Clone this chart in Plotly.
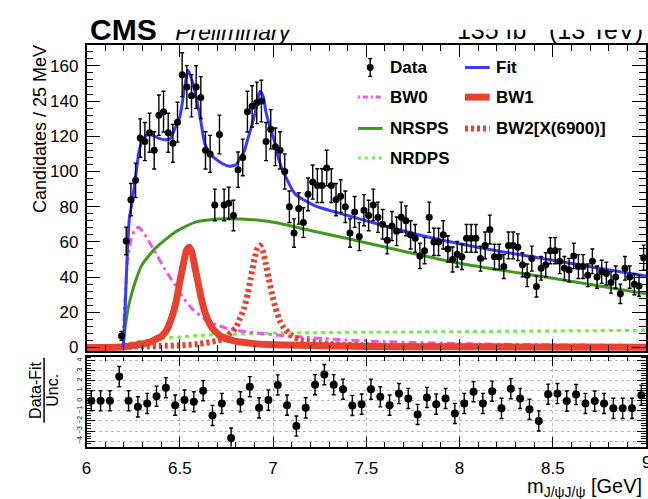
import numpy as np
import plotly.graph_objects as go

# ---- data: di-J/psi invariant mass, 25 MeV bins ----
bin_lo = 6.175
bin_w = 0.025
counts = [6.6, 60.5, 84, 95, 119, 117, 122, 112, 132, 134,
          122, 116, 128, 155, 148, 143, 148, 142, 112, 110,
          81, 121, 81, 82, 75, 101, 108, 134, 137, 139,
          140, 117, 124, 114, 112, 100, 80, 65, 79, 71,
          87, 94, 92, 92, 102, 92, 84, 86, 80, 65,
          77, 63, 78, 75, 81, 74, 70, 61, 69, 66,
          74, 72, 64, 62, 52, 55, 74, 60, 60, 64,
          56, 50, 53, 51.5, 62, 62, 62, 50.5, 58, 67,
          51.5, 51.5, 46, 58, 58, 57, 47, 41, 50.5, 34.6,
          45, 47, 55, 55, 49, 45, 44, 52, 46, 46,
          41, 49, 40, 43, 42, 37, 40, 30.5, 45, 40,
          36, 35, 51]
mass = [bin_lo + bin_w * (i + 0.5) for i in range(len(counts))]
errors = [np.sqrt(c) for c in counts]

# ---- pulls, 50 MeV bins ----
pull_lo = 6.0
pull_w = 0.05
pulls = [0, 0, 0, 2.4, 0, -0.6, -0.26, 0.46, 1.3, -0.43,
         0.07, -0.1, 1.0, -1.45, -0.26, -3.7, -0.1, 1.4, -0.7, 0.07,
         1.57, -0.43, -2.5, -0.7, 1.6, 2.6, 1.6, 1.15, -0.46, -0.33,
         1.15, 0.4, -0.43, 0.72, 0.23, -1.35, 0.33, -0.33, 0.23, -1.25,
         -0.26, 0.9, -0.26, 0.95, -0.75, 1.2, 0.23, -0.85, -2.0, 0.66,
         0.72, -0.03, 0.62, -0.26, -0.03, -0.26, -0.75, -0.75, -0.75, 0.56]
pull_mass = [pull_lo + pull_w * (i + 0.5) for i in range(len(pulls))]
pull_err = [1.0] * len(pulls)

# ---- fit model components ----
fit_m = [6.194, 6.199, 6.217, 6.229, 6.243, 6.261, 6.279, 6.296, 6.323, 6.35,
         6.385, 6.42, 6.447, 6.474, 6.5, 6.523, 6.544, 6.566, 6.588, 6.612,
         6.633, 6.659, 6.686, 6.73, 6.766, 6.801, 6.819, 6.845, 6.863, 6.889,
         6.907, 6.93, 6.948, 6.96, 6.983, 7.005, 7.031, 7.058, 7.12, 7.226,
         7.4, 7.6, 7.8, 8.0, 8.25, 8.5, 8.75, 9.0]
fit_v = [0, 3.8, 50.5, 73, 82, 95.5, 110, 117, 120.7, 120.7,
         119, 118, 118.5, 124.5, 131, 146, 157.6, 151.6, 142, 129,
         116, 110.4, 107.6, 104.4, 103, 103.9, 106.7, 111.4, 118, 127.3,
         134.8, 145.6, 142.3, 134.8, 125.4, 118, 106.7, 99.2, 87, 80.5,
         75, 69, 63.5, 59, 54, 49.6, 45, 40.6]

bw0_m = [6.194, 6.2, 6.21, 6.22, 6.24, 6.26, 6.279, 6.3, 6.33, 6.367,
         6.42, 6.474, 6.52, 6.562, 6.65, 6.75, 6.827, 6.95, 7.075, 7.35,
         7.6, 8.0, 8.5, 9.0]
bw0_v = [0, 15, 35, 50, 62, 67, 68.3, 66, 61, 54.3,
         44.5, 35.6, 28, 22.5, 15, 11, 9.4, 7.8, 6.6, 4.5,
         3.3, 2.2, 1.5, 1.1]

bw1_m = [6.0, 6.19, 6.25, 6.332, 6.403, 6.43, 6.456, 6.48, 6.5, 6.52,
         6.535, 6.55, 6.565, 6.58, 6.597, 6.615, 6.633, 6.66, 6.686, 6.73,
         6.792, 6.9, 7.0, 7.5, 8.0, 9.0]
bw1_v = [0, 0.3, 1.2, 2.8, 6.6, 10, 16.8, 26, 37.4, 48,
         55, 57, 54, 46, 37.4, 28, 20.6, 13.5, 9.4, 5.8,
         3.8, 2.2, 1.5, 0.6, 0.4, 0.2]

bw2_m = [6.0, 6.5, 6.6, 6.7, 6.74, 6.8, 6.82, 6.845, 6.865, 6.88,
         6.9, 6.915, 6.93, 6.945, 6.96, 6.977, 6.995, 7.013, 7.035, 7.058,
         7.1, 7.15, 7.3, 7.6, 8.0, 9.0]
bw2_v = [0, 1.2, 2, 3.8, 5.6, 11.2, 16, 22.5, 31, 39.3,
         50, 56, 58, 55, 48, 39.3, 30, 22.5, 15.5, 11.2,
         6.8, 4.2, 2, 1, 0.6, 0.3]

nrsps_m = [6.194, 6.205, 6.226, 6.261, 6.296, 6.367, 6.474, 6.58, 6.704, 6.827,
           6.951, 7.049, 7.2, 7.403, 7.757, 8.005, 8.5, 9.0]
nrsps_v = [0, 10, 24, 37.4, 46.8, 56.2, 65.5, 71.1, 73, 73,
           72, 70.2, 66.5, 61.8, 53.3, 47.7, 39.3, 30.5]

nrdps_m = [6.194, 6.21, 6.25, 6.3, 6.4, 6.5, 6.6, 6.8, 7.0, 7.3,
           7.5, 8.0, 8.5, 9.0]
nrdps_v = [0, 1.5, 2.8, 3.8, 5, 6, 6.8, 7.6, 8.2, 8.5,
           8.7, 9.0, 9.4, 9.8]

x_ticks = [6, 6.5, 7, 7.5, 8, 8.5, 9]
x_tick_text = ["6", "6.5", "7", "7.5", "8", "8.5", ""]

header_text = ["<b>CMS</b>", "<i>Preliminary</i>", "135 fb<sup>-1</sup> (13 TeV)"]

W, H = 648, 499
FONT = "Liberation Sans, Arial, sans-serif"

BLUE = "#3a3aff"
MAGENTA = "#ee55ee"
RED = "#e8412f"
GREEN = "#3f9a1c"
LIGHTGREEN = "#6ef23a"


def px(x):
    return x / W


def py(y):
    return 1 - y / H


fig = go.Figure()

curve_style = [
    (nrdps_m, nrdps_v, dict(color=LIGHTGREEN, width=3, dash="4px,4px")),
    (nrsps_m, nrsps_v, dict(color=GREEN, width=3)),
    (bw0_m, bw0_v, dict(color=MAGENTA, width=3, dash="3px,4px,8px,4px")),
    (bw2_m, bw2_v, dict(color=RED, width=6, dash="3px,3px")),
    (bw1_m, bw1_v, dict(color=RED, width=7)),
    (fit_m, fit_v, dict(color=BLUE, width=3)),
]
for xm, yv, ln in curve_style:
    fig.add_trace(go.Scatter(x=xm, y=yv, mode="lines", line=dict(shape="spline", smoothing=0.6, **ln),
                             xaxis="x", yaxis="y", hoverinfo="skip"))

fig.add_trace(go.Scatter(
    x=mass, y=counts, mode="markers",
    marker=dict(color="black", size=7),
    error_y=dict(type="data", array=errors, color="black", thickness=1.4, width=2),
    xaxis="x", yaxis="y"))

fig.add_trace(go.Scatter(
    x=pull_mass, y=pulls, mode="markers",
    marker=dict(color="black", size=8),
    error_y=dict(type="data", array=pull_err, color="black", thickness=1.4, width=2),
    xaxis="x2", yaxis="y2"))

# header line drawn on a full-page pixel frame so its top edge can be masked
fig.add_trace(go.Scatter(
    x=[86, 172, 645], y=[48, 46, 46], mode="text", text=header_text,
    textposition=["top right", "top right", "top left"],
    textfont=dict(family=FONT, size=[30, 23, 25], color="black"),
    xaxis="x3", yaxis="y3", hoverinfo="skip", cliponaxis=False))

x_dom = [px(82.5), 1.0]
axis_common = dict(showline=True, linecolor="black", linewidth=1.5, mirror="ticks",
                   ticks="inside", tickcolor="black", zeroline=False,
                   tickfont=dict(family=FONT, size=17, color="black"))

fig.update_layout(
    width=W, height=H,
    margin=dict(l=0, r=0, t=0, b=0),
    paper_bgcolor="white", plot_bgcolor="rgba(0,0,0,0)",
    showlegend=False,
    font=dict(family=FONT, color="black"),
    xaxis=dict(domain=x_dom, range=[6, 9], anchor="y", showticklabels=False,
               tickvals=x_ticks, ticklen=12, showgrid=False,
               minor=dict(dtick=0.1, tick0=6, ticklen=6, ticks="inside", tickcolor="black"),
               **axis_common),
    yaxis=dict(domain=[py(355.3), py(46)], range=[-2, 171.6], anchor="x",
               dtick=20, tick0=0, ticklen=14, showgrid=False, ticklabelstandoff=3,
               minor=dict(dtick=4, tick0=0, ticklen=7, ticks="inside", tickcolor="black"),
               **axis_common),
    xaxis2=dict(domain=x_dom, range=[6, 9], anchor="y2", tickvals=x_ticks, ticktext=x_tick_text,
                ticklen=10, showgrid=True, gridcolor="#b8b8b8", griddash="dot", gridwidth=1,
                ticklabelstandoff=5,
                minor=dict(dtick=0.1, tick0=6, ticklen=5, ticks="inside", tickcolor="black"),
                **axis_common),
    yaxis2=dict(domain=[py(452), py(361)], range=[-4.54, 4.38], anchor="x2",
                tickvals=[-4, -3, -2, -1, 0, 1, 2, 3, 4], ticklen=9,
                showgrid=True, gridcolor="#b8b8b8", griddash="dot", gridwidth=1,
                minor=dict(dtick=0.25, tick0=0, ticklen=5, ticks="inside", tickcolor="black"),
                **{k: v for k, v in axis_common.items() if k != "tickfont"},
                tickfont=dict(family=FONT, size=7, color="black"), tickangle=-90),
    xaxis3=dict(domain=[0, 1], range=[0, W], anchor="y3", visible=False, fixedrange=True),
    yaxis3=dict(domain=[0, 1], range=[H, 0], anchor="x3", visible=False, fixedrange=True),
)

ann = []
shapes = []

# white bands masking the top edge of the header line
shapes.append(dict(type="rect", xref="paper", yref="paper", x0=0, x1=px(165), y0=py(19), y1=1,
                   fillcolor="white", line=dict(width=0), layer="above"))
shapes.append(dict(type="rect", xref="paper", yref="paper", x0=px(165), x1=1, y0=py(30), y1=1,
                   fillcolor="white", line=dict(width=0), layer="above"))

# last x tick label sits on the page edge
ann.append(dict(text="9", x=1.0, y=py(468), xanchor="center", yanchor="middle",
                font=dict(size=17)))

# axis titles
ann.append(dict(text="Candidates / 25 MeV", textangle=-90, x=px(36), y=py(44),
                xanchor="center", yanchor="top", font=dict(size=18)))
ann.append(dict(text="m<sub>J/ψJ/ψ</sub> [GeV]", x=px(646), y=py(508),
                xanchor="right", yanchor="bottom", font=dict(size=20)))
ann.append(dict(text="Data-Fit", textangle=-90, x=px(31), y=py(395),
                xanchor="center", yanchor="middle", font=dict(size=16)))
ann.append(dict(text="Unc.", textangle=-90, x=px(48), y=py(395),
                xanchor="center", yanchor="middle", font=dict(size=16)))
shapes.append(dict(type="line", xref="paper", yref="paper", x0=px(39.5), x1=px(39.5),
                   y0=py(362), y1=py(428), line=dict(color="black", width=1.5)))

# legend
col1_line, col1_text = (356.7, 381.7), 386.7
col2_line, col2_text = (465, 490), 494
rows = [68.3, 98.3, 130, 160]
legend_items = [
    ("Data", 1, 0, None),
    ("Fit", 2, 0, dict(color=BLUE, width=3)),
    ("BW0", 1, 1, dict(color=MAGENTA, width=3, dash="2px,3px,5px,3px")),
    ("BW1", 2, 1, dict(color=RED, width=7)),
    ("NRSPS", 1, 2, dict(color=GREEN, width=3)),
    ("BW2[X(6900)]", 2, 2, dict(color=RED, width=6, dash="3px,3px")),
    ("NRDPS", 1, 3, dict(color=LIGHTGREEN, width=3, dash="3px,4px")),
]
for label, col, row, ln in legend_items:
    yy = rows[row]
    lx = col1_line if col == 1 else col2_line
    tx = col1_text if col == 1 else col2_text
    ann.append(dict(text="<b>%s</b>" % label, x=px(tx), y=py(yy), xanchor="left",
                    yanchor="middle", font=dict(size=17)))
    if ln is None:
        cx = (lx[0] + lx[1]) / 2
        shapes.append(dict(type="line", xref="paper", yref="paper", x0=px(cx), x1=px(cx),
                           y0=py(yy - 9), y1=py(yy + 9), line=dict(color="black", width=1.4)))
        for cap in (yy - 9, yy + 9):
            shapes.append(dict(type="line", xref="paper", yref="paper", x0=px(cx - 2), x1=px(cx + 2),
                               y0=py(cap), y1=py(cap), line=dict(color="black", width=1.4)))
        shapes.append(dict(type="circle", xref="paper", yref="paper", x0=px(cx - 3.5), x1=px(cx + 3.5),
                           y0=py(yy + 3.5), y1=py(yy - 3.5), fillcolor="black",
                           line=dict(color="black", width=0)))
    else:
        shapes.append(dict(type="line", xref="paper", yref="paper", x0=px(lx[0]), x1=px(lx[1]),
                           y0=py(yy), y1=py(yy), line=ln))

for a in ann:
    a.setdefault("showarrow", False)
    a.setdefault("xref", "paper")
    a.setdefault("yref", "paper")
fig.update_layout(annotations=ann, shapes=shapes)

fig.write_html("out.html")
